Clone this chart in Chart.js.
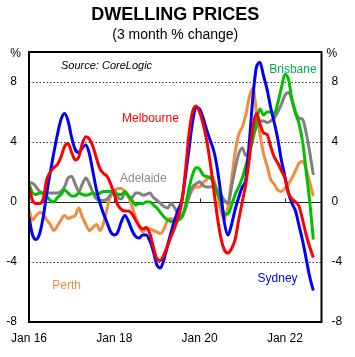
<!DOCTYPE html>
<html>
<head>
<meta charset="utf-8">
<script src="https://cdn.jsdelivr.net/npm/chart.js@4/dist/chart.umd.min.js"></script>
<style>
html,body{margin:0;padding:0;background:#fff;}
canvas{display:block;}
</style>
</head>
<body>
<canvas id="c" width="355" height="357"></canvas>
<script>
// Monthly data, Jan 2016 (index 0) to Sep 2022 (index 80)
const sydney = [-1.0,-2.2,-2.5,-2.1,-1.0,0.6,2.0,3.3,4.5,5.5,5.9,5.4,4.3,3.5,3.3,3.6,3.8,3.2,2.0,0.8,
  -0.1,-0.8,-1.4,-2.0,-2.2,-2.0,-1.3,-0.9,-1.3,-1.9,-2.3,-2.4,-2.2,-2.2,-2.6,-3.3,-4.2,-4.4,-3.8,-2.9,
  -2.0,-1.2,-0.5,0.1,1.7,3.5,5.3,6.3,6.2,5.6,4.8,4.1,3.4,2.2,0.5,-1.4,-2.2,-1.5,-0.5,0.3,
  1.0,1.5,4.0,7.0,9.0,9.3,8.4,7.5,6.3,5.3,4.2,2.8,1.7,0.6,-0.1,-0.6,-1.6,-2.6,-3.8,-5.0,-5.9];
const melbourne = [1.0,0.1,-0.1,-0.1,0.2,1.5,2.0,2.3,2.5,3.0,3.7,3.9,3.3,2.8,3.0,3.9,4.35,4.2,3.7,2.9,
  2.2,1.9,1.7,1.2,0.5,-0.2,-0.5,-0.6,-0.6,-0.8,-1.2,-1.6,-1.8,-1.7,-2.1,-3.0,-3.8,-3.9,-3.5,-2.9,
  -2.3,-1.7,-1.0,0.0,2.0,4.5,6.0,6.4,6.0,5.2,4.1,2.6,0.8,-1.0,-2.4,-3.2,-3.4,-3.1,-2.5,-1.2,
  0.0,1.2,2.9,5.0,5.9,5.2,4.6,4.5,3.7,3.0,2.6,2.1,1.6,0.6,0.2,0.0,-0.3,-1.2,-2.2,-3.0,-3.7];
const brisbane = [1.2,0.6,0.5,0.6,0.6,0.4,0.1,0.0,0.3,0.5,0.8,0.6,0.4,0.4,0.6,0.5,0.45,0.5,0.6,0.5,
  0.6,0.7,0.7,0.7,0.6,0.5,0.5,0.7,0.4,0.1,-0.2,-0.1,-0.1,0.0,0.0,-0.2,-0.4,-0.7,-1.0,-1.2,
  -1.3,-1.3,-1.2,-1.0,-0.3,0.9,1.8,2.3,2.2,1.8,1.7,1.6,1.3,0.6,0.0,-0.8,-0.8,-0.2,0.5,1.0,
  1.6,2.4,3.3,4.2,5.4,6.2,5.8,6.0,6.0,5.9,6.6,7.6,8.5,8.2,6.8,5.9,5.2,4.0,2.0,0.0,-2.5];
const adelaide = [1.3,1.25,1.0,0.7,0.6,0.6,0.6,0.6,0.6,0.7,1.0,1.6,1.7,1.2,0.7,1.2,1.6,1.2,0.6,0.2,
  0.1,0.1,0.2,0.5,0.8,0.3,0.2,0.6,0.4,0.3,0.6,0.6,0.45,0.5,0.6,0.3,0.1,-0.1,-0.3,-0.4,
  -0.1,-0.4,-0.8,-1.0,-0.4,0.4,1.0,1.2,1.35,1.1,1.0,1.0,1.1,0.8,0.5,0.1,-0.1,1.0,2.2,3.2,
  3.6,3.1,3.5,4.3,5.0,5.4,5.4,5.3,5.4,5.6,6.0,6.5,7.1,7.3,6.8,6.0,5.6,5.5,4.6,3.3,1.8];
const perth = [-0.5,-1.2,-0.9,-0.7,-0.8,-1.2,-1.5,-1.9,-1.6,-1.2,-0.9,-1.1,-1.0,-0.9,-0.4,-1.0,-1.5,-1.9,-1.7,-1.5,
  -1.9,-1.4,-0.4,0.4,0.7,0.9,0.9,0.7,0.35,-0.3,-1.0,-1.6,-2.0,-1.8,-1.8,-1.9,-2.0,-2.1,-1.8,-1.2,
  -1.1,-1.2,-1.0,-0.8,-0.5,0.3,0.8,1.0,1.0,1.3,1.5,1.7,1.5,0.6,-0.6,-1.1,-0.3,1.5,3.3,4.5,
  5.0,5.8,7.0,7.6,6.0,4.5,3.2,2.4,1.5,1.2,0.8,0.7,0.9,1.2,1.6,2.1,2.6,2.7,2.2,1.3,0.4];

const xTickPos = [0, 24, 48, 72];
const xTickLabels = ['Jan 16', 'Jan 18', 'Jan 20', 'Jan 22'];
const yTicks = [-8, -4, 0, 4, 8];

const series = [
  {name: 'Melbourne', values: melbourne, color: '#ff0000'},
  {name: 'Sydney', values: sydney, color: '#0000ff'},
  {name: 'Brisbane', values: brisbane, color: '#00c000'},
  {name: 'Adelaide', values: adelaide, color: '#808080'},
  {name: 'Perth', values: perth, color: '#f28c3e'}
];

// text labels placed in data coordinates (month index, value)
const annotations = [
  {text: 'Source: CoreLogic', x: 9.0, y: 9.07, color: '#000', font: 'italic 11px "Liberation Sans", Arial, sans-serif'},
  {text: 'Melbourne', x: 26.2, y: 5.55, color: '#ff0000'},
  {text: 'Adelaide', x: 25.6, y: 1.55, color: '#8c8c8c'},
  {text: 'Brisbane', x: 67.6, y: 8.85, color: '#00b050'},
  {text: 'Perth', x: 6.55, y: -5.58, color: '#f28c3e'},
  {text: 'Sydney', x: 64.3, y: -5.13, color: '#0000ff'}
];

const FONT = '"Liberation Sans", Arial, sans-serif';

const decor = {
  id: 'decor',
  beforeDatasetsDraw(chart) {
    const {ctx, chartArea: a, scales} = chart;
    const y = scales.y, x = scales.x;
    ctx.save();
    // dotted gridlines
    ctx.strokeStyle = '#333';
    ctx.lineWidth = 1;
    ctx.setLineDash([1.5, 2]);
    yTicks.forEach(v => {
      if (v === 0 || v === -8) return;
      const py = Math.round(y.getPixelForValue(v)) + 0.5;
      ctx.beginPath(); ctx.moveTo(a.left, py); ctx.lineTo(a.right, py); ctx.stroke();
    });
    ctx.setLineDash([]);
    // zero line
    const z = Math.round(y.getPixelForValue(0)) + 0.5;
    ctx.strokeStyle = '#222';
    ctx.lineWidth = 1;
    ctx.beginPath(); ctx.moveTo(a.left, z); ctx.lineTo(a.right, z); ctx.stroke();
    // small x ticks on zero line
    xTickPos.forEach(v => {
      const px = Math.round(x.getPixelForValue(v)) + 0.5;
      ctx.beginPath(); ctx.moveTo(px, z); ctx.lineTo(px, z - 4); ctx.stroke();
    });
    ctx.restore();
  },
  afterDraw(chart) {
    const {ctx, chartArea: a, scales} = chart;
    ctx.save();
    // frame
    ctx.strokeStyle = '#000';
    ctx.lineWidth = 2;
    ctx.strokeRect(a.left, a.top, a.right - a.left, a.bottom - a.top);
    // titles
    ctx.fillStyle = '#000';
    ctx.textAlign = 'center';
    ctx.textBaseline = 'middle';
    const cx = (a.left + a.right) / 2;
    ctx.font = 'bold 18px ' + FONT;
    ctx.fillText('DWELLING PRICES', cx, 15);
    ctx.font = '14px ' + FONT;
    ctx.fillText('(3 month % change)', cx, 35);
    // % unit labels
    ctx.font = '12px ' + FONT;
    ctx.textAlign = 'right';
    ctx.fillText('%', a.left - 8, a.top + 2);
    ctx.textAlign = 'left';
    ctx.fillText('%', a.right + 5, a.top + 2);
    // series annotations
    annotations.forEach(t => {
      ctx.font = t.font || ('12px ' + FONT);
      ctx.fillStyle = t.color;
      ctx.textAlign = 'left';
      ctx.textBaseline = 'middle';
      ctx.fillText(t.text, scales.x.getPixelForValue(t.x), scales.y.getPixelForValue(t.y));
    });
    ctx.restore();
  }
};

new Chart(document.getElementById('c'), {
  type: 'line',
  data: {
    datasets: series.map(s => ({
      label: s.name,
      data: s.values.map((v, i) => ({x: i, y: v})),
      borderColor: s.color,
      backgroundColor: s.color,
      borderWidth: 3,
      pointRadius: 0,
      tension: 0.35,
      cubicInterpolationMode: 'monotone',
      fill: false
    }))
  },
  options: {
    responsive: false,
    animation: false,
    devicePixelRatio: 1,
    layout: {padding: {top: 52, left: 0, right: 0, bottom: 0}},
    plugins: {legend: {display: false}, tooltip: {enabled: false}, title: {display: false}},
    scales: {
      x: {
        type: 'linear', min: 0, max: 82.3,
        afterBuildTicks: s => { s.ticks = xTickPos.map(v => ({value: v})); },
        afterFit: s => { s.height = 35; },
        grid: {display: false, drawTicks: false},
        border: {display: false},
        ticks: {
          padding: 9, maxRotation: 0, autoSkip: false,
          color: '#000', font: {family: FONT, size: 12},
          callback: v => xTickLabels[xTickPos.indexOf(v)]
        }
      },
      y: {
        type: 'linear', position: 'left', min: -8, max: 10,
        afterBuildTicks: s => { s.ticks = yTicks.map(v => ({value: v})); },
        afterFit: s => { s.width = 29; },
        grid: {display: false, drawTicks: false},
        border: {display: false},
        ticks: {padding: 12, color: '#000', font: {family: FONT, size: 12}}
      },
      y2: {
        type: 'linear', position: 'right', min: -8, max: 10,
        afterBuildTicks: s => { s.ticks = yTicks.map(v => ({value: v})); },
        afterFit: s => { s.width = 33.5; },
        grid: {display: false, drawTicks: false},
        border: {display: false},
        ticks: {padding: 10, color: '#000', font: {family: FONT, size: 12}}
      }
    }
  },
  plugins: [decor]
});
</script>
</body>
</html>
